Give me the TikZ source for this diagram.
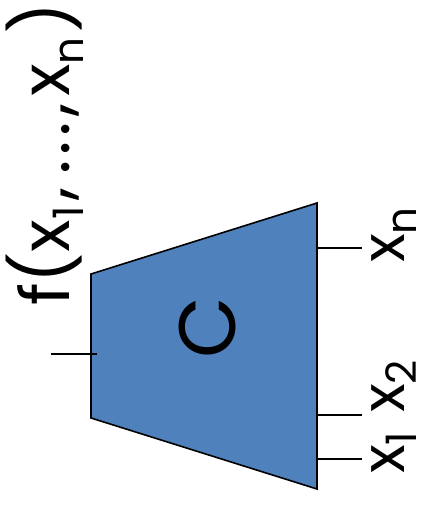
\documentclass[tikz,border=0pt]{standalone}
\usepackage{fontspec}
\setmainfont{Poppins}
\usetikzlibrary{positioning}
\definecolor{cblue}{RGB}{79,129,189}
\newcommand{\idx}[1]{\raisebox{-0.21em}{\fontsize{42}{42}\selectfont #1}}

\begin{document}
\begin{tikzpicture}[x=1pt, y=-1pt,
        every node/.style={inner sep=0pt, rotate=90},
        block/.style={draw=black, fill=cblue, line width=1.6pt},
        pin/.style={draw=black, line width=1.6pt},
        io/.style={font=\fontsize{60}{60}\selectfont, anchor=base west}
    ]
    \useasboundingbox (0,0) rectangle (421,506);
    % circuit body
    \coordinate (tl) at (91,274);
    \coordinate (tr) at (317,203);
    \coordinate (br) at (317,489);
    \coordinate (bl) at (91,418);
    \draw[block] (tl) -- (tr) -- (br) -- (bl) -- cycle;
    \node[font=\fontsize{80}{80}\selectfont] (name) at (207,328) {C};

    % pins
    \coordinate (fin) at (51,354);
    \coordinate (fout) at (97,354);
    \coordinate (pn) at (317,248);
    \coordinate (qn) at (362,248);
    \coordinate (p2) at (317,415);
    \coordinate (q2) at (362,415);
    \coordinate (p1) at (317,459);
    \coordinate (q1) at (362,459);
    \draw[pin] (fin) -- (fout);
    \draw[pin] (pn) -- (qn);
    \draw[pin] (p2) -- (q2);
    \draw[pin] (p1) -- (q1);

    % labels
    \node[io] (xn) at (404,263) {x\idx{n}};
    \node[io] (x2) at (404,413) {x\idx{2}};
    \node[io] (x1) at (404,474) {x\idx{1}};
    \node[font=\fontsize{68}{68}\selectfont, anchor=base] (f) at (69,154)
        {f(x\idx{1}\kern6pt,\kern12pt.\kern5pt.\kern5pt.\kern6pt,\kern6pt x\idx{n}\kern4pt)};
\end{tikzpicture}
\end{document}
